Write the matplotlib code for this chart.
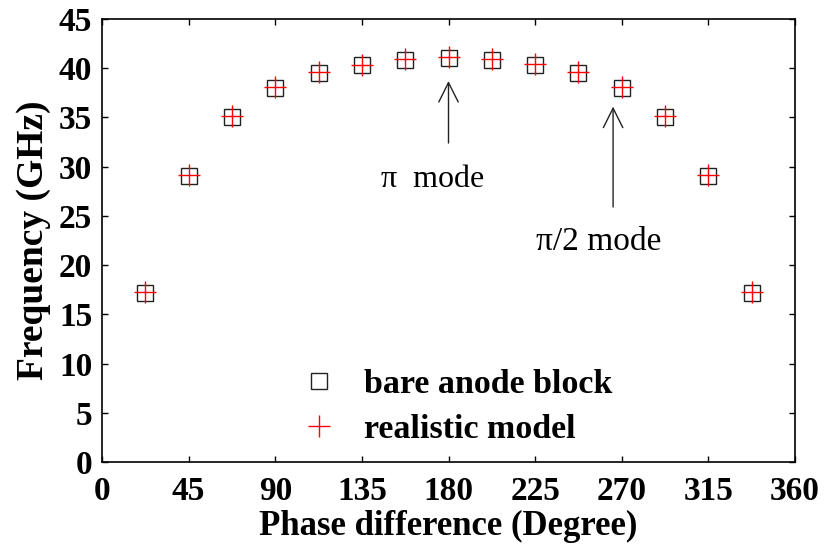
import matplotlib
matplotlib.use("Agg")
import matplotlib.pyplot as plt

plt.rcParams["font.family"] = "Liberation Serif"

phase = [22.5, 45, 67.5, 90, 112.5, 135, 157.5, 180, 202.5, 225, 247.5, 270, 292.5, 315, 337.5]
bare = [17.2, 29.1, 35.0, 38.0, 39.5, 40.3, 40.8, 41.0, 40.8, 40.3, 39.5, 38.0, 35.0, 29.1, 17.2]
realistic = [17.3, 29.2, 35.1, 38.1, 39.6, 40.3, 40.9, 41.1, 40.9, 40.4, 39.6, 38.1, 35.1, 29.2, 17.3]
xticks = [0, 45, 90, 135, 180, 225, 270, 315, 360]
yticks = [0, 5, 10, 15, 20, 25, 30, 35, 40, 45]

fig = plt.figure(figsize=(8.24, 5.44), dpi=100)
ax = fig.add_axes([102 / 824, 82 / 544, 693 / 824, 443 / 544])

ax.plot(phase, bare, ls="none", marker="s", ms=11, mfc="none", mec="#222222", mew=1.0,
        label="bare anode block")
ax.plot(phase, realistic, ls="none", marker="+", ms=16, mec="red", mew=1.0,
        label="realistic model")

ax.set_xlim(0, 360)
ax.set_ylim(0, 45)
ax.set_xticks(xticks)
ax.set_yticks(yticks)
ax.tick_params(direction="in", length=4, width=1, top=True, right=True, labelsize=24)
ax.tick_params(axis="x", pad=10)
ax.tick_params(axis="y", pad=7)
for lab in ax.get_xticklabels() + ax.get_yticklabels():
    lab.set_fontweight("bold")
for s in ax.spines.values():
    s.set_linewidth(1.2)

ax.set_xlabel("Phase difference (Degree)", fontsize=25, fontweight="bold", labelpad=2)
ax.set_ylabel("Frequency (GHz)", fontsize=27, fontweight="bold", labelpad=6)

# mode markers
arrow = dict(arrowstyle="->", color="#222222", lw=1.0, mutation_scale=35, shrinkA=0, shrinkB=0)
ax.annotate("", xy=(180, 38.7), xytext=(180, 32.4), arrowprops=arrow)
ax.text(171.5, 28.7, "π  mode", fontsize=23, ha="center", va="center")
ax.annotate("", xy=(265.5, 36.1), xytext=(265.5, 25.9), arrowprops=arrow)
ax.text(258, 22.4, "π/2 mode", fontsize=24, ha="center", va="center")

ax.legend(loc="center left", bbox_to_anchor=(0.245, 0.125), frameon=False,
          prop=dict(size=24.5, weight="bold"), handletextpad=0.32, labelspacing=0.41,
          borderaxespad=0)

fig.savefig("out.png", dpi=100, facecolor="white")
